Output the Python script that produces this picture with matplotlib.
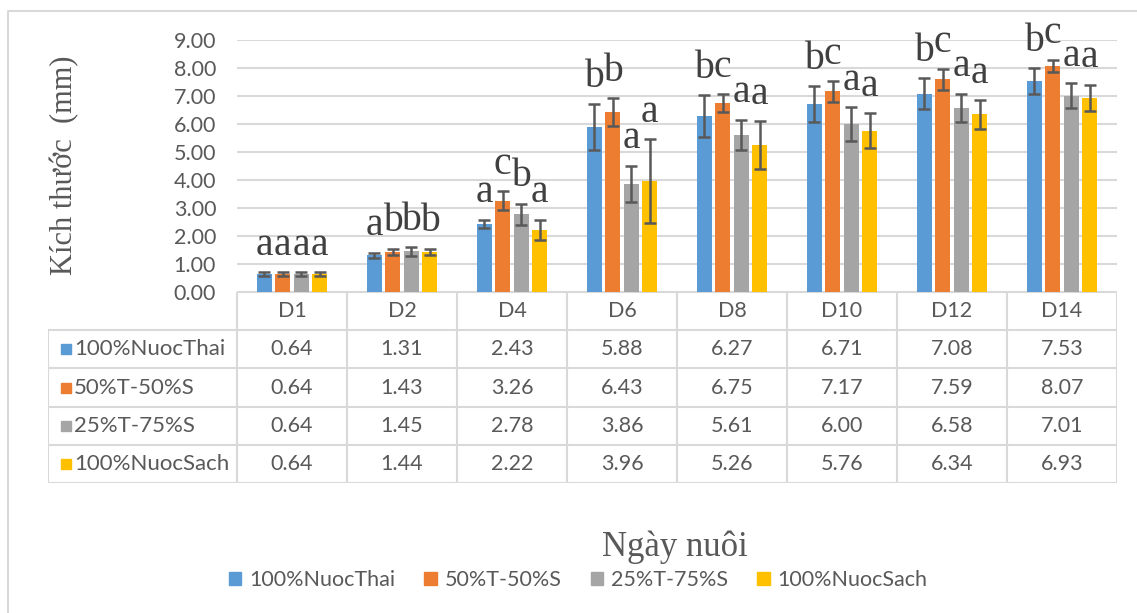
import numpy as np
import matplotlib.pyplot as plt
from matplotlib.patches import Patch
from matplotlib.lines import Line2D

days = ['D1', 'D2', 'D4', 'D6', 'D8', 'D10', 'D12', 'D14']
series = ['100%NuocThai', '50%T-50%S', '25%T-75%S', '100%NuocSach']

# mean size (mm) per day
nuoc_thai = [0.64, 1.31, 2.43, 5.88, 6.27, 6.71, 7.08, 7.53]
t50_s50 = [0.64, 1.43, 3.26, 6.43, 6.75, 7.17, 7.59, 8.07]
t25_s75 = [0.64, 1.45, 2.78, 3.86, 5.61, 6.00, 6.58, 7.01]
nuoc_sach = [0.64, 1.44, 2.22, 3.96, 5.26, 5.76, 6.34, 6.93]

# standard deviations
sd_thai = [0.07, 0.09, 0.15, 0.82, 0.75, 0.63, 0.55, 0.46]
sd_5050 = [0.07, 0.12, 0.33, 0.50, 0.32, 0.37, 0.37, 0.22]
sd_2575 = [0.07, 0.15, 0.38, 0.65, 0.55, 0.60, 0.50, 0.45]
sd_sach = [0.07, 0.11, 0.36, 1.50, 0.85, 0.63, 0.52, 0.48]

# significance letters
let_thai = ['a', 'a', 'a', 'b', 'b', 'b', 'b', 'b']
let_5050 = ['a', 'b', 'c', 'b', 'c', 'c', 'c', 'c']
let_2575 = ['a', 'b', 'b', 'a', 'a', 'a', 'a', 'a']
let_sach = ['a', 'b', 'a', 'a', 'a', 'a', 'a', 'a']

values = [nuoc_thai, t50_s50, t25_s75, nuoc_sach]
errors = [sd_thai, sd_5050, sd_2575, sd_sach]
letters = [let_thai, let_5050, let_2575, let_sach]
colors = ['#5B9BD5', '#ED7D31', '#A5A5A5', '#FFC000']

TXT = '#595959'
GRID = '#D9D9D9'
SANS = 'Lato'
SERIF = 'Liberation Serif'

W, H = 1137, 613
fig = plt.figure(figsize=(W / 100, H / 100), dpi=100)


def box(x0, y0, x1, y1):
    return [x0 / W, 1 - y1 / H, (x1 - x0) / W, (y1 - y0) / H]


# chart frame (left and top edges)
fig.add_artist(Line2D([8 / W, 8 / W, 1], [0, 1 - 11 / H, 1 - 11 / H],
                      color=GRID, lw=1.5, transform=fig.transFigure))

ax = fig.add_axes(box(237, 40, 1117, 292))
x = np.arange(len(days))
slot = 0.168
bw = 0.136
for i in range(4):
    xs = x + (i - 1.5) * slot
    ax.bar(xs, values[i], width=bw, color=colors[i], zorder=2)
    ax.errorbar(xs, values[i], yerr=errors[i], fmt='none', ecolor='#595959',
                elinewidth=1.8, capsize=4.5, capthick=1.8, zorder=3)
    for xi, v, e, s in zip(xs, values[i], errors[i], letters[i]):
        ax.text(xi, v + e + 0.62, s, ha='center', va='baseline',
                fontsize=28.5, family=SERIF, color='#404040', clip_on=False)

ax.set_xlim(-0.5, 7.5)
ax.set_ylim(0, 9)
ax.set_yticks(range(10))
ax.set_yticklabels(['%.2f' % t for t in range(10)], family=SANS)
ax.set_xticks([])
ax.tick_params(axis='y', length=0, pad=15, labelsize=15.5, labelcolor=TXT)
ax.grid(axis='y', color=GRID, lw=1.5)
ax.set_axisbelow(True)
for sp in ax.spines.values():
    sp.set_visible(False)

fig.text(65 / W, 1 - 165 / H, 'Kích thước  (mm)', rotation=90, ha='center',
         va='center', fontsize=22, family=SERIF, color=TXT)

# data table under the bars
tax = fig.add_axes(box(48, 292, 1117, 483))
xl = -0.5 - 189 / 110
tax.set_xlim(xl, 7.5)
tax.set_ylim(5, 0)
tax.axis('off')
tax.plot([-0.5, 7.5], [0, 0], color=GRID, lw=1.5)
for r in range(1, 6):
    tax.plot([xl, 7.5], [r, r], color=GRID, lw=1.5)
for k in range(9):
    tax.plot([k - 0.5, k - 0.5], [0, 5], color=GRID, lw=1.5)
tax.plot([xl, xl], [1, 5], color=GRID, lw=1.5)

for j, d in enumerate(days):
    tax.text(j, 0.5, d, ha='center', va='center', fontsize=15.5,
             family=SANS, color=TXT)
for i in range(4):
    r = i + 1.5
    tax.plot(xl + 0.165, r, 's', color=colors[i], ms=7.5)
    tax.text(xl + 0.235, r, series[i], ha='left', va='center', fontsize=16,
             family=SANS, color=TXT)
    for j, v in enumerate(values[i]):
        tax.text(j, r, '%.2f' % v, ha='center', va='center', fontsize=15.5,
                 family=SANS, color=TXT)

fig.text(675 / W, 1 - 547 / H, 'Ngày nuôi', ha='center', va='center',
         fontsize=25, family=SERIF, color=TXT)

handles = [Patch(color=c) for c in colors]
fig.legend(handles, series, loc='center', bbox_to_anchor=(578 / W, 1 - 580 / H),
           ncol=4, frameon=False, handlelength=0.6, handleheight=0.6,
           handletextpad=0.35, columnspacing=1.35,
           prop={'family': SANS, 'size': 15.5}, labelcolor=TXT)

fig.savefig('out.png', dpi=100, facecolor='white')
